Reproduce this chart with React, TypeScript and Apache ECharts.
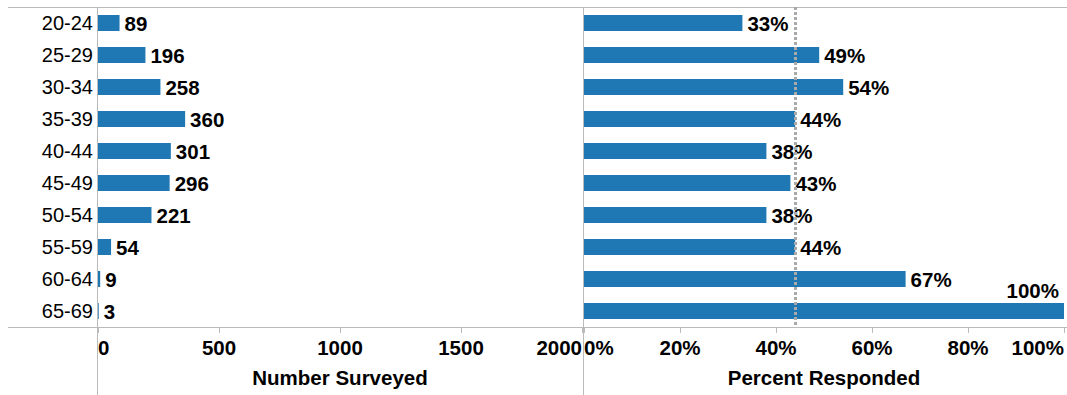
import React, { useEffect, useRef } from "react";
import * as echarts from "echarts";

const ageGroups = ["20-24", "25-29", "30-34", "35-39", "40-44", "45-49", "50-54", "55-59", "60-64", "65-69"];
const numberSurveyed = [89, 196, 258, 360, 301, 296, 221, 54, 9, 3];
const percentResponded = [33, 49, 54, 44, 38, 43, 38, 44, 67, 100];
const averageResponse = 44;
const surveyedTicks = { min: 0, max: 2000, interval: 500 };
const percentTicks = { min: 0, max: 100, interval: 20 };

const BAR = "#1f77b4";
const GRAY = "#bbbbbb";
const FONT = "Liberation Sans, Arial, sans-serif";
const BOLD_SIZE = 20.5;

export default function App() {
  const ref = useRef<HTMLDivElement>(null);
  useEffect(() => {
    if (!ref.current) return;
    const chart = echarts.init(ref.current, null, { renderer: "svg" });
    const tickLabel = {
      fontFamily: FONT,
      fontSize: BOLD_SIZE,
      fontWeight: "bold" as const,
      color: "#000",
      margin: 10,
      alignMinLabel: "left" as const,
      alignMaxLabel: "right" as const,
    };
    const nameStyle = { fontFamily: FONT, fontSize: BOLD_SIZE, fontWeight: "bold" as const, color: "#000" };
    const valueLabel = {
      show: true,
      position: "right" as const,
      distance: 5,
      fontFamily: FONT,
      fontSize: BOLD_SIZE,
      fontWeight: "bold" as const,
      color: "#000",
    };
    const pctData = percentResponded.map((v) =>
      v >= 100
        ? {
            value: v,
            label: {
              position: ["100%", 0],
              align: "right",
              verticalAlign: "bottom",
              offset: [-5, -2],
            },
          }
        : v
    );
    chart.setOption({
      animation: false,
      textStyle: { fontFamily: FONT },
      grid: [
        { left: 98, width: 484, top: 7, bottom: 68 },
        { left: 584, width: 483, top: 7, bottom: 68 },
      ],
      xAxis: [
        {
          gridIndex: 0,
          type: "value",
          ...surveyedTicks,
          name: "Number Surveyed",
          nameLocation: "middle",
          nameGap: 40,
          nameTextStyle: nameStyle,
          axisLine: { show: false },
          axisTick: { show: true, length: 6, lineStyle: { color: GRAY } },
          splitLine: { show: false },
          axisLabel: { ...tickLabel, formatter: (v: number) => String(v) },
        },
        {
          gridIndex: 1,
          type: "value",
          ...percentTicks,
          name: "Percent Responded",
          nameLocation: "middle",
          nameGap: 40,
          nameTextStyle: nameStyle,
          axisLine: { show: false },
          axisTick: { show: true, length: 6, lineStyle: { color: GRAY } },
          splitLine: { show: false },
          axisLabel: { ...tickLabel, formatter: "{value}%" },
        },
      ],
      yAxis: [
        {
          gridIndex: 0,
          type: "category",
          data: ageGroups,
          inverse: true,
          axisLine: { show: false },
          axisTick: { show: false },
          axisLabel: { fontFamily: FONT, fontSize: 20, color: "#000", margin: 5 },
        },
        {
          gridIndex: 1,
          type: "category",
          data: ageGroups,
          inverse: true,
          axisLine: { show: false },
          axisTick: { show: false },
          axisLabel: { show: false },
        },
      ],
      series: [
        {
          type: "bar",
          xAxisIndex: 0,
          yAxisIndex: 0,
          data: numberSurveyed,
          barWidth: 16,
          itemStyle: { color: BAR },
          label: valueLabel,
        },
        {
          type: "bar",
          xAxisIndex: 1,
          yAxisIndex: 1,
          data: pctData,
          barWidth: 16,
          itemStyle: { color: BAR },
          label: { ...valueLabel, formatter: "{c}%" },
          markLine: {
            silent: true,
            symbol: "none",
            label: { show: false },
            lineStyle: { color: "#a9a9a9", width: 3, type: [3, 2] },
            data: [{ xAxis: averageResponse }],
          },
        },
      ],
      graphic: [
        { type: "line", shape: { x1: 8, y1: 7.5, x2: 1067, y2: 7.5 }, style: { stroke: GRAY, lineWidth: 1 }, z: 0 },
        { type: "line", shape: { x1: 8, y1: 327.5, x2: 1067, y2: 327.5 }, style: { stroke: GRAY, lineWidth: 1 }, z: 0 },
        { type: "line", shape: { x1: 97.5, y1: 7, x2: 97.5, y2: 395 }, style: { stroke: GRAY, lineWidth: 1 }, z: 0 },
        { type: "line", shape: { x1: 583.5, y1: 7, x2: 583.5, y2: 395 }, style: { stroke: GRAY, lineWidth: 1 }, z: 0 },
      ],
    });
    return () => chart.dispose();
  }, []);
  return (
    <div
      ref={ref}
      style={{ position: "absolute", left: 0, top: 0, width: 1067, height: 395, background: "#fff" }}
    />
  );
}
